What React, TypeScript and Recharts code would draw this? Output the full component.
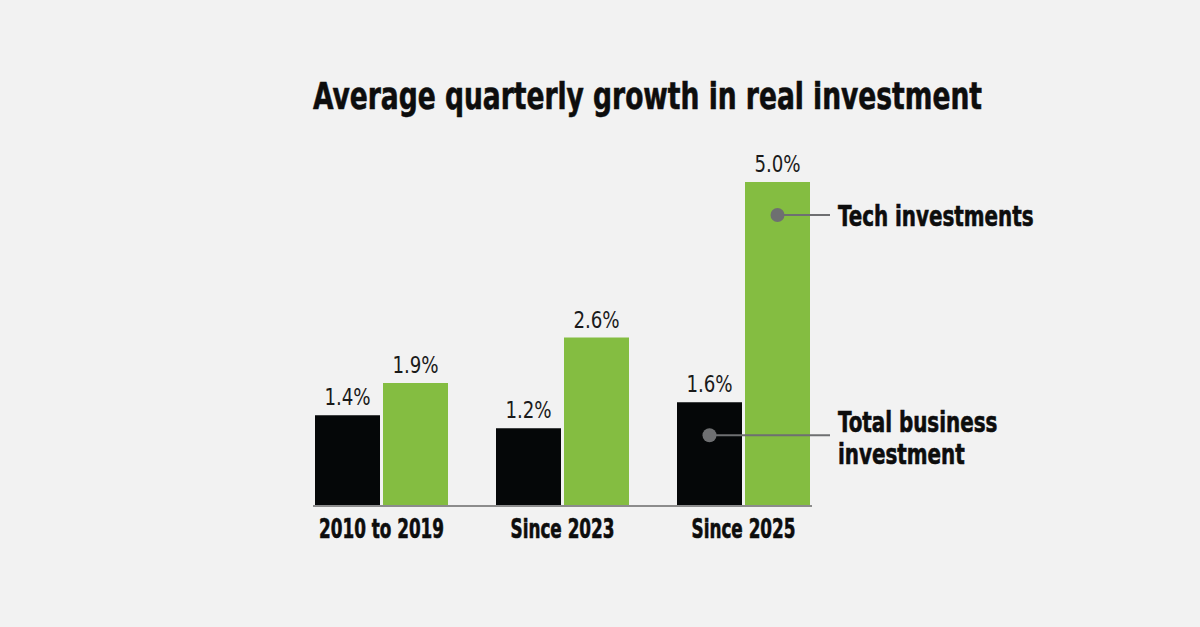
import React from 'react';
import { BarChart, Bar, XAxis, YAxis, LabelList } from 'recharts';

const categories = ['2010 to 2019', 'Since 2023', 'Since 2025'];
const totalBusiness = [1.4, 1.2, 1.6];
const techInvestments = [1.9, 2.6, 5.0];
const seriesNames = { total: ['Total business', 'investment'], tech: ['Tech investments'] };

const data = categories.map((category, i) => ({
  category,
  total: totalBusiness[i],
  tech: techInvestments[i],
}));

const BG = '#f2f2f2';
const BLACK = '#050708';
const GREEN = '#84bd41';
const DOT = '#6e6f71';
const INK = '#0d0d0d';
const FONT = "'DejaVu Sans Condensed', 'DejaVu Sans', sans-serif";

const fmt = (v: number) => `${v.toFixed(1)}%`;

// Horizontally compressed text, to get a condensed newsroom look.
const NarrowText = ({
  x,
  y,
  sx,
  children,
  anchor = 'start',
  weight = 700,
  size,
  baseline,
  fill = INK,
}: any) => (
  <text
    transform={`translate(${x},${y}) scale(${sx},1)`}
    x={0}
    y={0}
    textAnchor={anchor}
    dominantBaseline={baseline}
    fontFamily={FONT}
    fontWeight={weight}
    fontSize={size}
    fill={fill}
    stroke={weight === 700 ? fill : 'none'}
    strokeWidth={weight === 700 ? 0.6 : 0}
  >
    {children}
  </text>
);

const ValueLabel = (props: any) => {
  const { x, y, width, value } = props;
  return (
    <NarrowText x={x + width / 2} y={y - 10} sx={0.88} anchor="middle" weight={400} size={23} fill="#1a1a1a">
      {fmt(value)}
    </NarrowText>
  );
};

// Callout drawn beside the last bar of a series: dot inside the bar, leader line, label.
const makeCallout = (lines: string[], bars: number) => (props: any) => {
  const { x, y, width, index } = props;
  if (index !== categories.length - 1) return null;
  const cx = x + width / 2;
  const cy = y + 33;
  const right = x + width * bars + 3 * (bars - 1);
  const lineEnd = right + 20;
  const textX = right + 28;
  const lh = 32;
  const first = cy - ((lines.length - 1) * lh) / 2 + (lines.length > 1 ? 3 : 2);
  return (
    <g>
      <line x1={cx} y1={cy} x2={lineEnd} y2={cy} stroke={DOT} strokeWidth={2} />
      <circle cx={cx} cy={cy} r={7} fill={DOT} />
      {lines.map((t, i) => (
        <NarrowText key={t} x={textX} y={first + i * lh} sx={0.79} size={28} baseline="central">
          {t}
        </NarrowText>
      ))}
    </g>
  );
};

const CategoryTick = (props: any) => {
  const { x, y, payload } = props;
  return (
    <NarrowText x={x} y={y + 24} sx={0.72} anchor="middle" size={26}>
      {payload.value}
    </NarrowText>
  );
};

export default function App() {
  return (
    <div
      style={{
        position: 'absolute',
        left: 0,
        top: 0,
        width: 1200,
        height: 627,
        background: BG,
        overflow: 'hidden',
      }}
    >
      <BarChart
        width={1200}
        height={627}
        data={data}
        margin={{ top: 182, right: 388, bottom: 81, left: 313 }}
        barSize={65}
        barGap={3}
        style={{ position: 'absolute', left: 0, top: 0 }}
      >
        <NarrowText x={647.5} y={109} sx={0.797} anchor="middle" size={37}>
          Average quarterly growth in real investment
        </NarrowText>
        <XAxis
          dataKey="category"
          height={40}
          padding={{ left: -22, right: -22 }}
          tickLine={false}
          axisLine={{ stroke: '#8c8c8c', strokeWidth: 2 }}
          tick={<CategoryTick />}
          interval={0}
        />
        <YAxis hide domain={[0, 5]} />
        <Bar dataKey="total" fill={BLACK} isAnimationActive={false}>
          <LabelList dataKey="total" content={<ValueLabel />} />
          <LabelList dataKey="total" content={makeCallout(seriesNames.total, 2)} />
        </Bar>
        <Bar dataKey="tech" fill={GREEN} isAnimationActive={false}>
          <LabelList dataKey="tech" content={<ValueLabel />} />
          <LabelList dataKey="tech" content={makeCallout(seriesNames.tech, 1)} />
        </Bar>
      </BarChart>
    </div>
  );
}
